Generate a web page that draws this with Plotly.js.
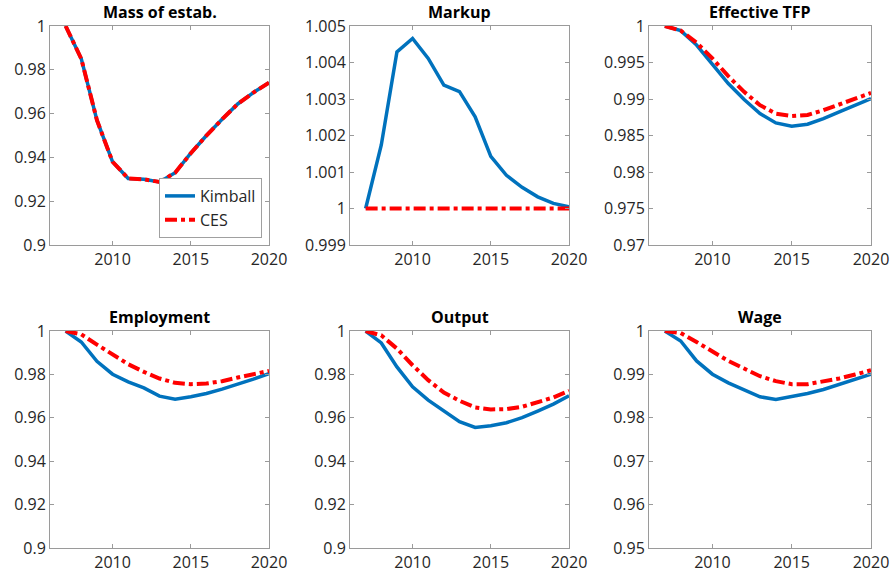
<!DOCTYPE html>
<html>
<head>
<meta charset="utf-8">
<script src="https://cdn.plot.ly/plotly-3.0.1.min.js"></script>
<style>html,body{margin:0;padding:0;background:#fff;}#chart{width:891px;height:577px;}</style>
</head>
<body>
<div id="chart"></div>
<script>
const years = [2007,2008,2009,2010,2011,2012,2013,2014,2015,2016,2017,2018,2019,2020];
const panelTitles = ["Mass of estab.","Markup","Effective TFP","Employment","Output","Wage"];
const seriesNames = ["Kimball","CES"];

const massKimball = [1.0,0.985,0.957,0.938,0.9304,0.930,0.9288,0.933,0.9419,0.950,0.9574,0.9644,0.9696,0.9741];
const massCES     = [1.0,0.985,0.957,0.938,0.9304,0.930,0.9288,0.933,0.9419,0.950,0.9574,0.9644,0.9696,0.9741];

const markupKimball = [1.0,1.00174,1.00429,1.00466,1.00411,1.00338,1.0032,1.00251,1.00143,1.00091,1.00058,1.00032,1.00014,1.00005];
const markupCES     = [1,1,1,1,1,1,1,1,1,1,1,1,1,1];

const tfpKimball = [1.0,0.99936,0.99739,0.99473,0.99212,0.98992,0.988,0.98672,0.98626,0.98654,0.98731,0.98823,0.98915,0.99006];
const tfpCES     = [1.0,0.99936,0.99771,0.99556,0.99313,0.99098,0.98915,0.988,0.98768,0.98782,0.98846,0.98924,0.98997,0.99084];

const empKimball = [1.0,0.99495,0.98607,0.98009,0.97657,0.97381,0.96998,0.96861,0.96968,0.97121,0.9732,0.97534,0.97779,0.9804];
const empCES     = [1.0,0.99847,0.99372,0.98913,0.98469,0.98116,0.9781,0.97611,0.9755,0.9758,0.97688,0.97856,0.98009,0.98162];

const outKimball = [1.0,0.99449,0.98346,0.97427,0.96815,0.96325,0.95819,0.95559,0.95636,0.95773,0.96003,0.96309,0.96631,0.97014];
const outCES     = [1.0,0.998,0.99188,0.98423,0.97734,0.97167,0.96784,0.96478,0.96386,0.96401,0.96508,0.96708,0.96937,0.97243];

const wageKimball = [1.0,0.9977,0.99311,0.99005,0.98806,0.98652,0.98484,0.98423,0.98484,0.9856,0.98652,0.98767,0.9889,0.99005];
const wageCES     = [1.0,0.99954,0.99747,0.99518,0.99311,0.99135,0.98959,0.98844,0.98775,0.98775,0.98829,0.98906,0.98997,0.99096];

const xTicks = [2010,2015,2020];
const yRanges = [[0.9,1],[0.999,1.005],[0.97,1],[0.9,1],[0.9,1],[0.95,1]];
const yTickVals = [
  [0.9,0.92,0.94,0.96,0.98,1],
  [0.999,1,1.001,1.002,1.003,1.004,1.005],
  [0.97,0.975,0.98,0.985,0.99,0.995,1],
  [0.9,0.92,0.94,0.96,0.98,1],
  [0.9,0.92,0.94,0.96,0.98,1],
  [0.95,0.96,0.97,0.98,0.99,1]
];
const yTickText = [
  ["0.9","0.92","0.94","0.96","0.98","1"],
  ["0.999","1","1.001","1.002","1.003","1.004","1.005"],
  ["0.97","0.975","0.98","0.985","0.99","0.995","1"],
  ["0.9","0.92","0.94","0.96","0.98","1"],
  ["0.9","0.92","0.94","0.96","0.98","1"],
  ["0.95","0.96","0.97","0.98","0.99","1"]
];

const kimball = [massKimball, markupKimball, tfpKimball, empKimball, outKimball, wageKimball];
const ces = [massCES, markupCES, tfpCES, empCES, outCES, wageCES];

const W = 891, H = 577;
const colPx = [[50,269],[350,569],[649,871]];
const rowPx = [[26,245],[331,548]];

const BLUE = '#0072BD', RED = '#FF0000';
const FONT = 'Open Sans, sans-serif';
const TXT = '#262626';
const FRAME = '#9a9a9a';

const traces = [];
const layout = {
  width: W, height: H,
  margin: {l:0,r:0,t:0,b:0},
  paper_bgcolor: '#fff', plot_bgcolor: '#fff',
  showlegend: true,
  font: {family: FONT, size: 16, color: TXT},
  legend: {
    x: 262/W, xanchor: 'right', y: 1-238/H, yanchor: 'bottom',
    bgcolor: '#fff', bordercolor: '#a0a0a0', borderwidth: 1,
    font: {family: FONT, size: 16, color: TXT},
    tracegroupgap: 0, itemwidth: 30
  },
  annotations: []
};

for (let i = 0; i < 6; i++) {
  const r = Math.floor(i/3), c = i % 3;
  const sfx = i === 0 ? '' : String(i+1);
  traces.push({
    x: years, y: kimball[i], type: 'scatter', mode: 'lines', name: seriesNames[0],
    xaxis: 'x'+sfx, yaxis: 'y'+sfx, showlegend: i === 0,
    line: {color: BLUE, width: 3.5}
  });
  traces.push({
    x: years, y: ces[i], type: 'scatter', mode: 'lines', name: seriesNames[1],
    xaxis: 'x'+sfx, yaxis: 'y'+sfx, showlegend: i === 0,
    line: {color: RED, width: 4, dash: '12px,4px,4px,4px'}
  });
  const xd = [colPx[c][0]/W, colPx[c][1]/W];
  const yd = [1-rowPx[r][1]/H, 1-rowPx[r][0]/H];
  layout['xaxis'+sfx] = {
    domain: xd, anchor: 'y'+sfx, range: [2006, 2020],
    tickvals: xTicks, ticktext: xTicks.map(String),
    ticks: 'inside', ticklen: 4, tickcolor: FRAME, tickwidth: 1,
    showline: true, linecolor: FRAME, linewidth: 1, mirror: 'ticks',
    showgrid: false, zeroline: false,
    tickfont: {family: FONT, size: 16, color: TXT}
  };
  layout['yaxis'+sfx] = {
    domain: yd, anchor: 'x'+sfx, range: yRanges[i],
    tickvals: yTickVals[i], ticktext: yTickText[i],
    ticks: 'inside', ticklen: 4, tickcolor: FRAME, tickwidth: 1,
    showline: true, linecolor: FRAME, linewidth: 1, mirror: 'ticks',
    showgrid: false, zeroline: false,
    tickfont: {family: FONT, size: 16, color: TXT}
  };
  layout.annotations.push({
    text: '<b>' + panelTitles[i] + '</b>',
    xref: 'paper', yref: 'paper',
    x: (colPx[c][0]+colPx[c][1])/2/W, y: 1-(rowPx[r][0]-1)/H,
    xanchor: 'center', yanchor: 'bottom', showarrow: false,
    font: {family: FONT, size: 16, color: '#000'}
  });
}

Plotly.newPlot('chart', traces, layout, {staticPlot: true, displayModeBar: false});
</script>
</body>
</html>
